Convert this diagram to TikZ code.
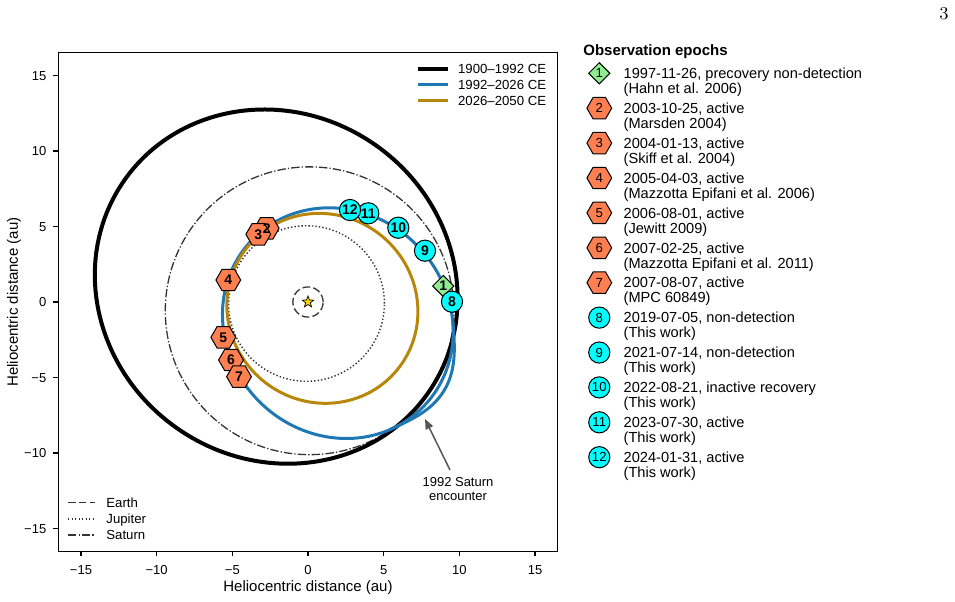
\documentclass[tikz,border=0pt]{standalone}
\usepackage{fontspec}
\setsansfont{Liberation Sans}
\usetikzlibrary{shapes.geometric,arrows.meta}
\definecolor{tabblue}{RGB}{31,119,180}
\definecolor{goldorb}{RGB}{184,134,11}
\definecolor{hexfill}{RGB}{255,127,80}
\definecolor{cyanfill}{RGB}{0,255,255}
\definecolor{greenfill}{RGB}{144,238,144}
\definecolor{stargold}{RGB}{255,215,0}
\definecolor{planetgray}{RGB}{51,51,51}
\definecolor{arrowgray}{RGB}{85,85,85}
\begin{document}
\begin{tikzpicture}[x=0.5pt,y=-0.5pt,
  declare function={bump(\t)=0.45*sin(180*(\t+20)/68)*sin(180*(\t+20)/68);},
  blackorb/.style={black,line width=2pt},
  blueorb/.style={tabblue,line width=1.5pt},
  goldline/.style={goldorb,line width=1.5pt},
  earthline/.style={planetgray,line width=0.65pt,dash pattern=on 3.8pt off 1.6pt},
  jupline/.style={planetgray,line width=0.7pt,dash pattern=on 0.7pt off 1.05pt},
  satline/.style={planetgray,line width=0.65pt,dash pattern=on 4.2pt off 1.05pt on 0.65pt off 1.05pt},
  hexmk/.style={regular polygon,regular polygon sides=6,minimum size=12.4pt,inner sep=0pt,draw=black,line width=0.5pt,fill=hexfill},
  cirmk/.style={circle,minimum size=10.6pt,inner sep=0pt,draw=black,line width=0.5pt,fill=cyanfill},
  dmk/.style={diamond,minimum width=10.8pt,minimum height=10.8pt,inner sep=0pt,draw=black,line width=0.5pt,fill=greenfill},
  numb/.style={font=\sffamily\bfseries\fontsize{7}{8}\selectfont,inner sep=0pt},
  lnum/.style={font=\sffamily\fontsize{6.6}{7}\selectfont,inner sep=0pt},
  ticktxt/.style={font=\sffamily\fontsize{6.5}{7}\selectfont,inner sep=0pt},
  axtxt/.style={font=\sffamily\fontsize{7.5}{8}\selectfont,inner sep=0pt},
  legtxt/.style={font=\sffamily\fontsize{7.3}{8}\selectfont,inner sep=0pt,anchor=base west},
  plegtxt/.style={font=\sffamily\fontsize{6.6}{7}\selectfont,inner sep=0pt,anchor=base west},
]
\useasboundingbox (0,0) rectangle (955,601);

% ---------- orbits (au coordinates) ----------
\begin{scope}[shift={(308,302)},x=7.567pt,y=7.55pt]
  \draw[satline] (0.1,-0.58) circle [radius=9.53];
  \draw[jupline] (-0.1,-0.1) circle [radius=5.15];
  \draw[earthline] (0,0) circle [radius=1];
  \node[star,star points=5,star point ratio=2.4,minimum size=6pt,inner sep=0pt,
        fill=stargold,draw=black,line width=0.35pt] (sun) at (0,0) {};
  \draw[blackorb,rotate around={-35:(-2.1,1.02)}] (-2.1,1.02) ellipse [x radius=12.25,y radius=11.45];
  \draw[blueorb,rotate around={-45:(1.97,-1.4)}] (1.97,-1.4) ellipse [x radius=7.9,y radius=7.35];
  \draw[blueorb] plot[domain=-20:48,samples=60,smooth,variable=\t]
    ({1.97+0.7071*((7.9+bump(\t))*cos(\t)+(7.35+bump(\t))*sin(\t))},
     {-1.4+0.7071*(-(7.9+bump(\t))*cos(\t)+(7.35+bump(\t))*sin(\t))});
  \draw[goldline,rotate around={-40:(0.95,-0.42)}] (0.95,-0.42) ellipse [x radius=6.4,y radius=6.2];

  % ticks
  \foreach \v/\lab in {-15/−15,-10/−10,-5/−5,0/0,5/5,10/10,15/15}{
    \draw[line width=0.6pt] (\v,-16.5) -- (\v,-16.85);
    \draw[line width=0.6pt] (-16.5,\v) -- (-16.85,\v);
    \node[ticktxt,anchor=base] (xt\v) at (\v,-18.06) {\lab};
    \node[ticktxt,anchor=base east] (yt\v) at (-17.27,\v-0.31) {\lab};
  }
\end{scope}

% ---------- plot markers ----------
\node[dmk]   (m1)  at (443.3,286)   {};
\node[hexmk] (m2)  at (266.7,228.3) {};
\node[hexmk] (m3)  at (258.3,234.3) {};
\node[hexmk] (m4)  at (228.3,280)   {};
\node[hexmk] (m5)  at (223.3,337.3) {};
\node[hexmk] (m6)  at (231,360)     {};
\node[hexmk] (m7)  at (239,376.7)   {};
\node[cirmk] (m8)  at (452,301.7)   {};
\node[cirmk] (m9)  at (425,250.7)   {};
\node[cirmk] (m10) at (398.3,227.7) {};
\node[cirmk] (m11) at (368.3,213.3) {};
\node[cirmk] (m12) at (350,210)     {};
\foreach \k in {1,...,12}{ \node[numb] (n\k) at (m\k) {\k}; }

% ---------- frame ----------
\draw[line width=0.6pt] (58.4,52.4) rectangle (557.6,551.6);

% axis labels
\node[axtxt,anchor=base] (xlab) at (308,591.7) {Heliocentric distance (au)};
\node[axtxt,anchor=base,rotate=90] (ylab) at (18,302) {Heliocentric distance (au)};

% ---------- legend: periods ----------
\coordinate (pa1) at (418,68.5);  \coordinate (pb1) at (448,68.5);
\coordinate (pa2) at (418,84.5);  \coordinate (pb2) at (448,84.5);
\coordinate (pa3) at (418,100.5); \coordinate (pb3) at (448,100.5);
\draw[blackorb] (pa1) -- (pb1);
\draw[blueorb]  (pa2) -- (pb2);
\draw[goldline] (pa3) -- (pb3);
\node[plegtxt] (pt1) at (457.7,73.15)  {1900–1992 CE};
\node[plegtxt] (pt2) at (457.7,89.15)  {1992–2026 CE};
\node[plegtxt] (pt3) at (457.7,105.15) {2026–2050 CE};

% ---------- legend: planets ----------
\coordinate (qa1) at (68,502.7); \coordinate (qb1) at (95,502.7);
\coordinate (qa2) at (68,519);   \coordinate (qb2) at (95,519);
\coordinate (qa3) at (68,535);   \coordinate (qb3) at (95,535);
\draw[earthline] (qa1) -- (qb1);
\draw[jupline]   (qa2) -- (qb2);
\draw[satline]   (qa3) -- (qb3);
\node[plegtxt] (qt1) at (106,507.3) {Earth};
\node[plegtxt] (qt2) at (106,523.6) {Jupiter};
\node[plegtxt] (qt3) at (106,539.6) {Saturn};

% ---------- annotation ----------
\node[ticktxt,anchor=base] (ann1) at (458,486.3) {1992 Saturn};
\node[ticktxt,anchor=base] (ann2) at (458,500) {encounter};
\coordinate (arT) at (450,470);
\coordinate (arH) at (425,419);
\draw[arrowgray,line width=0.75pt,-{Triangle[length=5pt,width=4pt]}] (arT) -- (arH);

% ---------- right legend ----------
\node[font=\sffamily\bfseries\fontsize{7.5}{8}\selectfont,inner sep=0pt,anchor=base west] (title) at (583,55.6) {Observation epochs};
\foreach \k/\sty/\la/\lb in {
  1/dmk/{1997-11-26, precovery non-detection}/{(Hahn et al. 2006)},
  2/hexmk/{2003-10-25, active}/{(Marsden 2004)},
  3/hexmk/{2004-01-13, active}/{(Skiff et al. 2004)},
  4/hexmk/{2005-04-03, active}/{(Mazzotta Epifani et al. 2006)},
  5/hexmk/{2006-08-01, active}/{(Jewitt 2009)},
  6/hexmk/{2007-02-25, active}/{(Mazzotta Epifani et al. 2011)},
  7/hexmk/{2007-08-07, active}/{(MPC 60849)},
  8/cirmk/{2019-07-05, non-detection}/{(This work)},
  9/cirmk/{2021-07-14, non-detection}/{(This work)},
  10/cirmk/{2022-08-21, inactive recovery}/{(This work)},
  11/cirmk/{2023-07-30, active}/{(This work)},
  12/cirmk/{2024-01-31, active}/{(This work)}}{
  \pgfmathsetmacro\yy{73.3+34.9*(\k-1)}
  \node[\sty] (lm\k) at (599.3,\yy) {};
  \node[lnum] (ln\k) at (lm\k) {\k};
  \node[legtxt] (la\k) at (623.3,\yy+5.2) {\la};
  \node[legtxt] (lb\k) at (623.3,\yy+20.2) {\lb};
}

% page number
\node[font=\fontsize{9}{10}\selectfont,inner sep=0pt] (pg) at (944,14) {3};
\end{tikzpicture}
\end{document}
